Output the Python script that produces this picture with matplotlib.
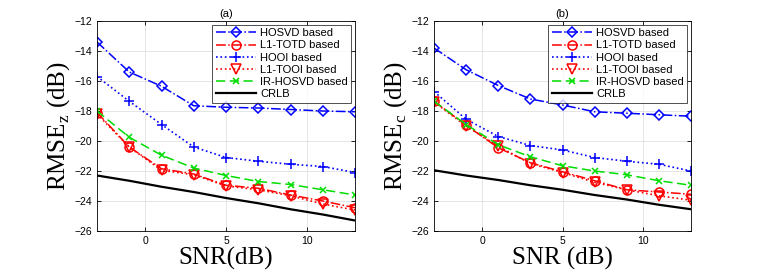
import numpy as np
import matplotlib
matplotlib.use("Agg")
import matplotlib.pyplot as plt

# -----------------------------------------------------------------------------
# data
# -----------------------------------------------------------------------------
snr = [-3, -1, 1, 3, 5, 7, 9, 11, 13]

# panel (a): RMSE_z
a_hosvd = [-13.4, -15.4, -16.35, -17.65, -17.75, -17.8, -17.9, -18.0, -18.05]
a_l1totd = [-18.1, -20.4, -21.85, -22.2, -22.95, -23.15, -23.6, -24.0, -24.45]
a_hooi = [-15.7, -17.35, -18.9, -20.4, -21.1, -21.35, -21.55, -21.7, -22.1]
a_l1tooi = [-18.2, -20.4, -21.95, -22.25, -23.0, -23.25, -23.65, -24.2, -24.6]
a_irhosvd = [-18.0, -19.75, -20.95, -21.8, -22.3, -22.7, -22.9, -23.25, -23.6]
a_crlb = [-22.3, -22.65, -23.05, -23.4, -23.8, -24.15, -24.55, -24.9, -25.3]

# panel (b): RMSE_c
b_hosvd = [-13.8, -15.25, -16.3, -17.2, -17.6, -18.05, -18.15, -18.25, -18.35]
b_l1totd = [-17.35, -18.95, -20.45, -21.45, -22.05, -22.65, -23.25, -23.4, -23.55]
b_hooi = [-16.7, -18.55, -19.7, -20.3, -20.6, -21.1, -21.35, -21.55, -22.0]
b_l1tooi = [-17.4, -19.0, -20.35, -21.5, -22.1, -22.75, -23.25, -23.65, -23.95]
b_irhosvd = [-17.35, -18.9, -20.25, -21.05, -21.65, -22.0, -22.25, -22.65, -22.95]
b_crlb = [-21.95, -22.3, -22.6, -22.95, -23.25, -23.6, -23.9, -24.25, -24.55]

labels = ["HOSVD based", "L1-TOTD based", "HOOI based",
          "L1-TOOI based", "IR-HOSVD based", "CRLB"]

plt.rcParams['font.family'] = ['Liberation Sans', 'DejaVu Sans']
plt.rcParams['mathtext.fontset'] = 'custom'
plt.rcParams['mathtext.rm'] = 'Liberation Serif'

fig = plt.figure(figsize=(7.63, 2.73), dpi=100)
W, H = 763, 273
ax_a = fig.add_axes([97 / W, 1 - 231 / H, 258 / W, 210 / H])
ax_b = fig.add_axes([434 / W, 1 - 231 / H, 257 / W, 210 / H])


def draw(ax, series, title, ylab, xlab):
    hosvd, l1totd, hooi, l1tooi, irhosvd, crlb = series
    ax.plot(snr, hosvd, '-.', color='#0000ff', marker='D', ms=5, mfc='none',
            mew=1.1, lw=1.1, label=labels[0])
    ax.plot(snr, l1totd, '-.', color='#ff0000', marker='o', ms=6.5, mfc='none',
            mew=1.1, lw=1.1, label=labels[1])
    ax.plot(snr, hooi, ':', color='#0000ff', marker='+', ms=6.5, mew=1.1,
            lw=1.2, label=labels[2])
    ax.plot(snr, l1tooi, ':', color='#ff0000', marker='v', ms=6.5, mfc='none',
            mew=1.1, lw=1.2, label=labels[3])
    ax.plot(snr, irhosvd, '--', color='#00dd00', marker='x', ms=4.5, mew=1.1,
            lw=1.1, dashes=(6, 3), label=labels[4])
    ax.plot(snr, crlb, '-', color='black', lw=1.6, label=labels[5])

    ax.set_xlim(-3, 13)
    ax.set_ylim(-26, -12)
    ax.set_xticks([0, 5, 10])
    ax.set_yticks(np.arange(-26, -11, 2))
    ax.tick_params(direction='in', top=True, right=True, labelsize=7.5,
                   length=3, width=0.6)
    ax.grid(True, color='#e0e0e0', lw=0.6)
    for s in ax.spines.values():
        s.set_linewidth(0.6)
    ax.set_title(title, fontsize=8, pad=3)
    ax.set_ylabel(ylab, fontsize=18, family='Liberation Serif', labelpad=2)
    ax.set_xlabel(xlab, fontsize=18, family='Liberation Serif', labelpad=1)
    leg = ax.legend(loc='upper right', fontsize=8, frameon=True, fancybox=False,
                    edgecolor='black', handlelength=3.6, handletextpad=0.4,
                    labelspacing=0.2, borderpad=0.3, borderaxespad=0.35)
    leg.get_frame().set_linewidth(0.6)


draw(ax_a, (a_hosvd, a_l1totd, a_hooi, a_l1tooi, a_irhosvd, a_crlb),
     "(a)", r"RMSE$_{\mathrm{z}}$ (dB)", "SNR(dB)")
draw(ax_b, (b_hosvd, b_l1totd, b_hooi, b_l1tooi, b_irhosvd, b_crlb),
     "(b)", r"RMSE$_{\mathrm{c}}$ (dB)", "SNR (dB)")

fig.savefig("out.png", dpi=100)
